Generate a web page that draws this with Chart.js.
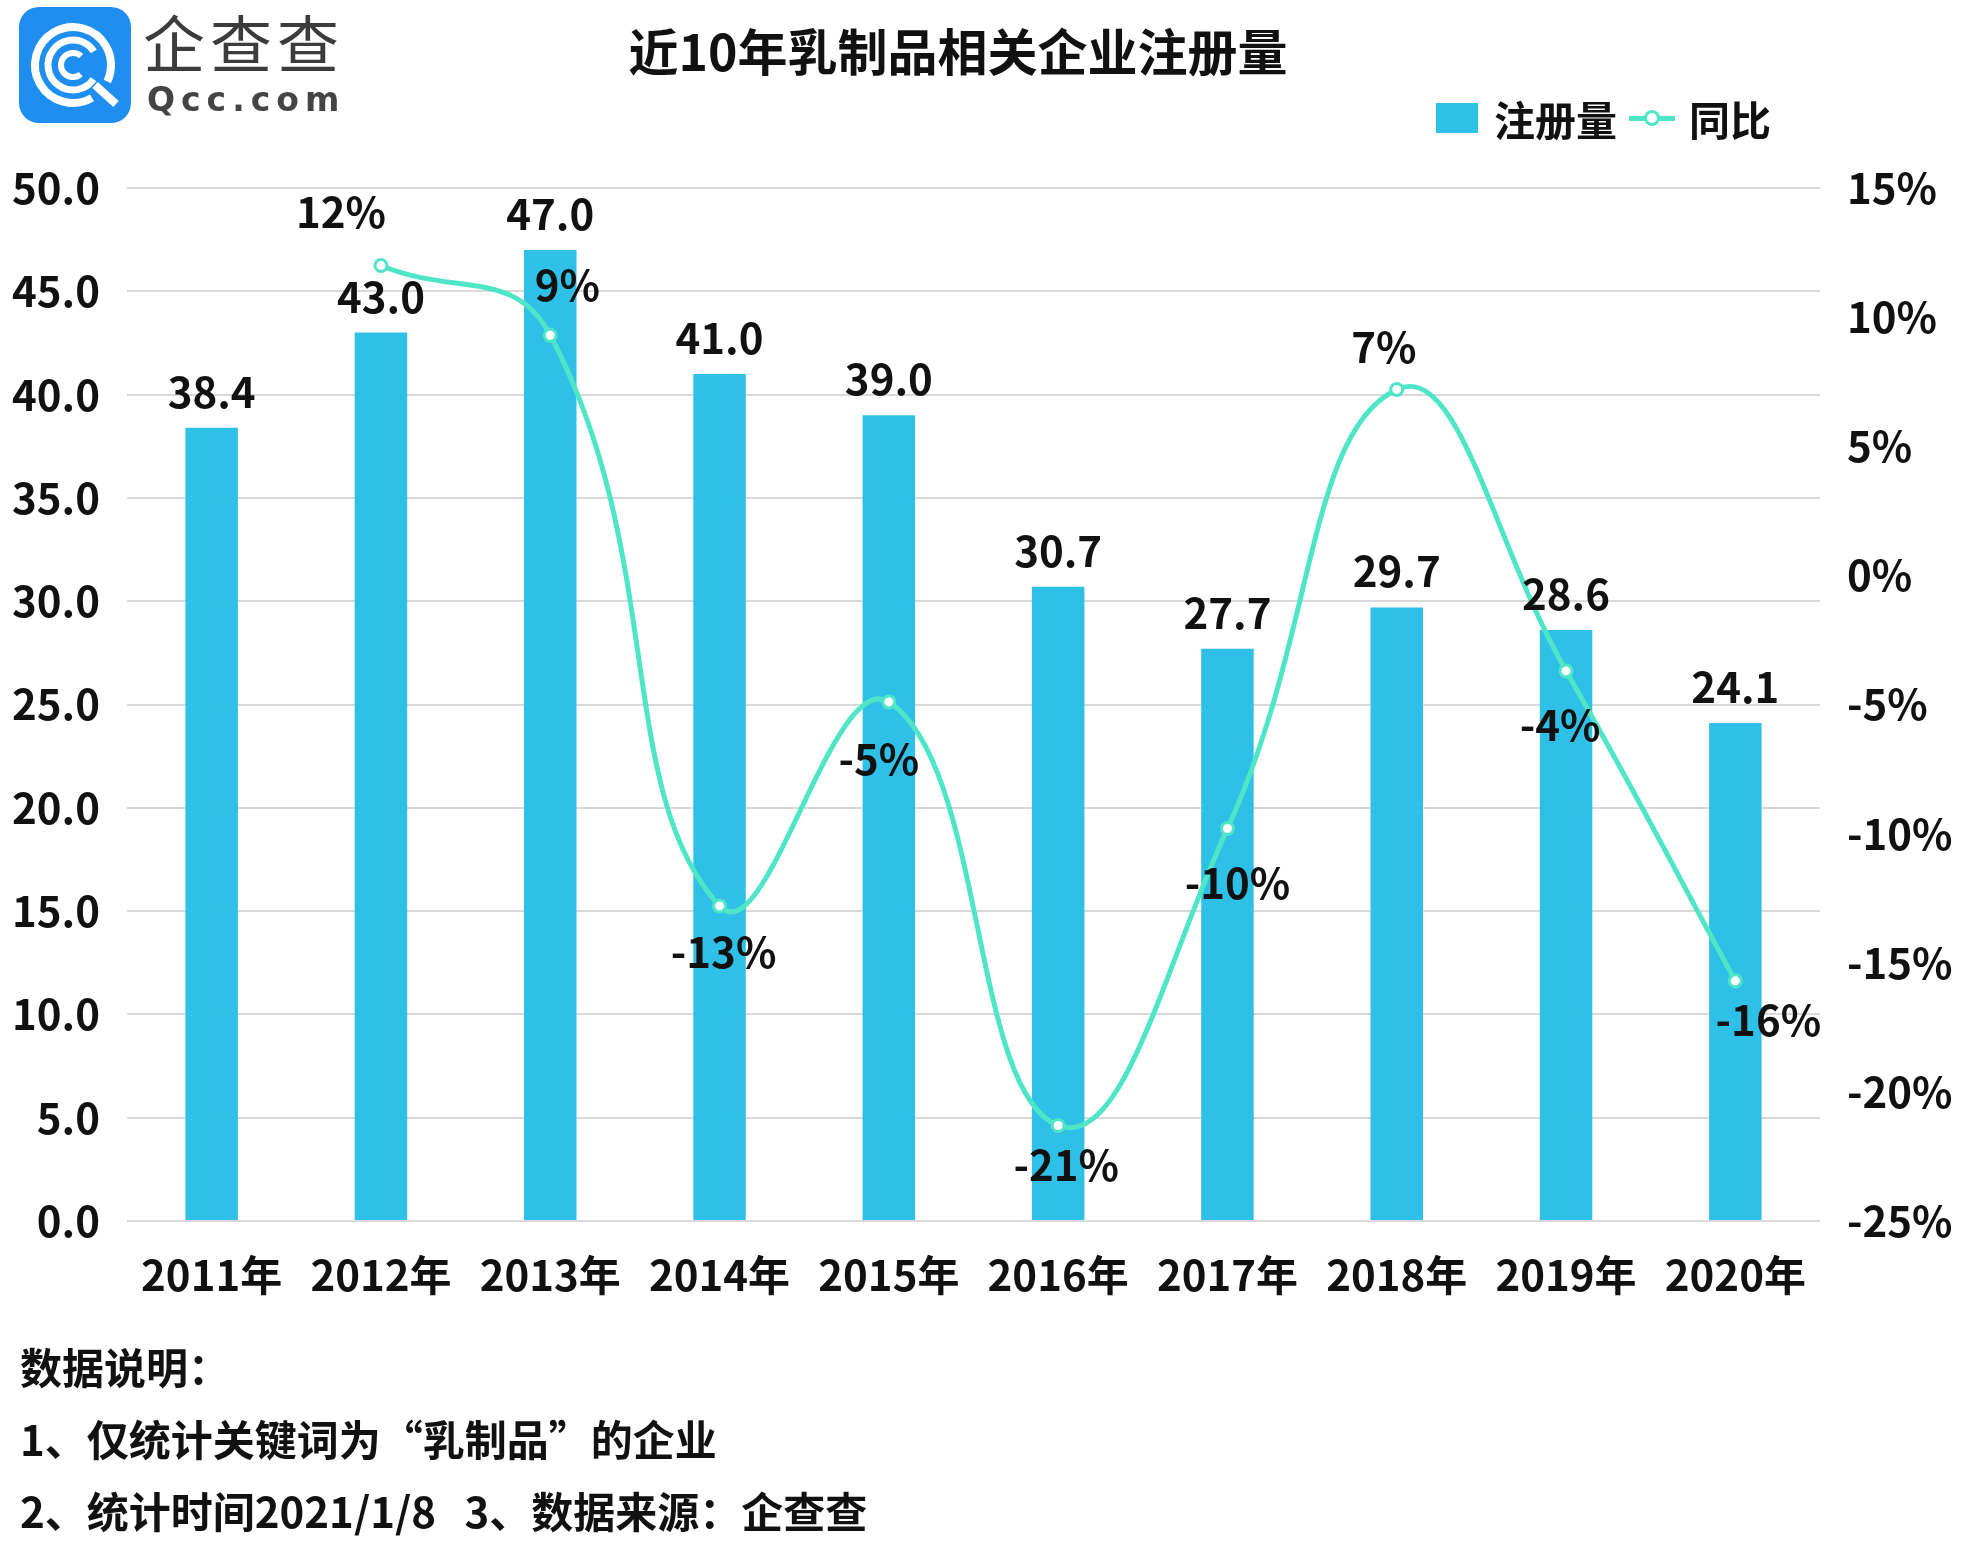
<!DOCTYPE html>
<html lang="zh-CN">
<head>
  <meta charset="UTF-8">
  <title>近10年乳制品相关企业注册量</title>
  <script src="https://cdn.jsdelivr.net/npm/chart.js"></script>
  <style>
    html, body { margin: 0; padding: 0; background: #fff; }
    body { width: 1966px; height: 1555px; position: relative; overflow: hidden; font-family: "Noto Sans CJK SC", sans-serif; color: #111; }
    #chart { position: absolute; left: 0; top: 0; }
    .logo { position: absolute; left: 19px; top: 7px; }
    .brand { position: absolute; left: 143px; top: -4px; font-size: 62px; color: #3c3c3c; font-weight: 400; letter-spacing: 5px; }
    .domain { position: absolute; left: 147px; top: 80px; font-family: "DejaVu Sans", sans-serif; font-size: 33px; font-weight: 700; color: #444; letter-spacing: 6px; }
    .title { position: absolute; left: 958px; top: 13px; transform: translateX(-50%); font-size: 50px; font-weight: 700; white-space: nowrap; }
    .legend { position: absolute; top: 88px; left: 1436px; font-size: 41px; font-weight: 700; display: flex; align-items: center; white-space: nowrap; }
    .legend .box { width: 42px; height: 30px; background: #2fc0e8; margin-right: 16px; }
    .legend .ln { position: relative; width: 46px; height: 5px; background: #4ee6c6; margin: 0 14px 0 12px; }
    .legend .ln::after { content: ""; position: absolute; left: 15px; top: -6px; width: 10px; height: 10px; border: 3px solid #4ee6c6; border-radius: 50%; background: #fff; }
    .notes { position: absolute; left: 20px; top: 1330px; font-size: 42px; font-weight: 700; line-height: 72px; }
  </style>
</head>
<body>
  <canvas id="chart" width="1966" height="1555"></canvas>

  <svg class="logo" width="112" height="116" viewBox="0 0 112 116">
    <rect x="0" y="0" width="112" height="116" rx="20" fill="#1e8ff0"/>
    <circle cx="54" cy="58" r="38" fill="none" stroke="#fff" stroke-width="8" stroke-dasharray="215.6 23.2" transform="rotate(60 54 58)"/>
    <circle cx="54" cy="58" r="25" fill="none" stroke="#fff" stroke-width="7" stroke-dasharray="126.5 30.5" transform="rotate(35 54 58)"/>
    <circle cx="54" cy="58" r="12" fill="none" stroke="#fff" stroke-width="6" stroke-dasharray="54.5 20.9" transform="rotate(50 54 58)"/>
    <line x1="76" y1="78" x2="97" y2="97" stroke="#fff" stroke-width="8"/>
  </svg>
  <div class="brand">企查查</div>
  <div class="domain">Qcc.com</div>

  <div class="title">近10年乳制品相关企业注册量</div>

  <div class="legend">
    <span class="box"></span><span>注册量</span><span class="ln"></span><span>同比</span>
  </div>

  <div class="notes">
    <div>数据说明：</div>
    <div>1、仅统计关键词为“乳制品”的企业</div>
    <div>2、统计时间2021/1/8&nbsp;&nbsp;&nbsp;3、数据来源：企查查</div>
  </div>

  <script>
    const years = ["2011年","2012年","2013年","2014年","2015年","2016年","2017年","2018年","2019年","2020年"];
    const counts = [38.4, 43.0, 47.0, 41.0, 39.0, 30.7, 27.7, 29.7, 28.6, 24.1];
    const yoy = [null, 12.0, 9.3, -12.8, -4.9, -21.3, -9.8, 7.2, -3.7, -15.7];

    // label placement for the percent labels (dx, dy from the point)
    const yoyLabelOffsets = [null, [-40,-53], [17,-50], [4,46], [-10,57], [8,40], [10,55], [-13,-42], [-6,54], [33,39]];

    const barColor = '#2fc0e8';
    const lineColor = '#4ee6c6';
    const labelFont = 'bold 42px "Noto Sans CJK SC"';

    Chart.defaults.font.family = '"Noto Sans CJK SC"';
    Chart.defaults.color = '#111';

    const valueLabels = {
      id: 'valueLabels',
      afterDatasetsDraw(chart) {
        const ctx = chart.ctx;
        ctx.save();
        ctx.font = labelFont;
        ctx.fillStyle = '#111';
        ctx.textAlign = 'center';
        ctx.textBaseline = 'middle';
        chart.getDatasetMeta(0).data.forEach((bar, i) => {
          ctx.fillText(counts[i].toFixed(1), bar.x, bar.y - 36);
        });
        chart.getDatasetMeta(1).data.forEach((pt, i) => {
          if (yoy[i] === null) return;
          const off = yoyLabelOffsets[i];
          ctx.fillText(Math.round(yoy[i]) + '%', pt.x + off[0], pt.y + off[1]);
        });
        ctx.restore();
      }
    };

    new Chart(document.getElementById('chart'), {
      data: {
        labels: years,
        datasets: [
          {
            type: 'bar',
            label: '注册量',
            data: counts,
            backgroundColor: barColor,
            yAxisID: 'y',
            categoryPercentage: 1,
            barPercentage: 0.31,
            order: 2
          },
          {
            type: 'line',
            label: '同比',
            data: yoy,
            yAxisID: 'y1',
            borderColor: lineColor,
            borderWidth: 5,
            tension: 0.45,
            pointRadius: 6,
            pointBorderWidth: 3,
            pointBackgroundColor: '#fff',
            pointBorderColor: lineColor,
            order: 1
          }
        ]
      },
      options: {
        responsive: false,
        animation: false,
        layout: { padding: { top: 188, left: 0, right: 0, bottom: 0 } },
        plugins: { legend: { display: false }, tooltip: { enabled: false } },
        scales: {
          x: {
            grid: { display: false },
            border: { display: false },
            ticks: { font: { size: 42, weight: 'bold' }, padding: 21, maxRotation: 0 },
            afterFit(scale) { scale.height = 334; }
          },
          y: {
            position: 'left',
            min: 0,
            max: 50,
            grid: { color: '#d9d9d9', lineWidth: 2, drawTicks: false },
            border: { display: false },
            ticks: {
              stepSize: 5,
              padding: 27,
              font: { size: 42, weight: 'bold' },
              callback: v => v.toFixed(1)
            },
            afterFit(scale) { scale.width = 127; }
          },
          y1: {
            position: 'right',
            min: -25,
            max: 15,
            grid: { display: false, drawTicks: false },
            border: { display: false },
            ticks: {
              stepSize: 5,
              padding: 27,
              font: { size: 42, weight: 'bold' },
              callback: v => v + '%'
            },
            afterFit(scale) { scale.width = 146; }
          }
        }
      },
      plugins: [valueLabels]
    });
  </script>
</body>
</html>
